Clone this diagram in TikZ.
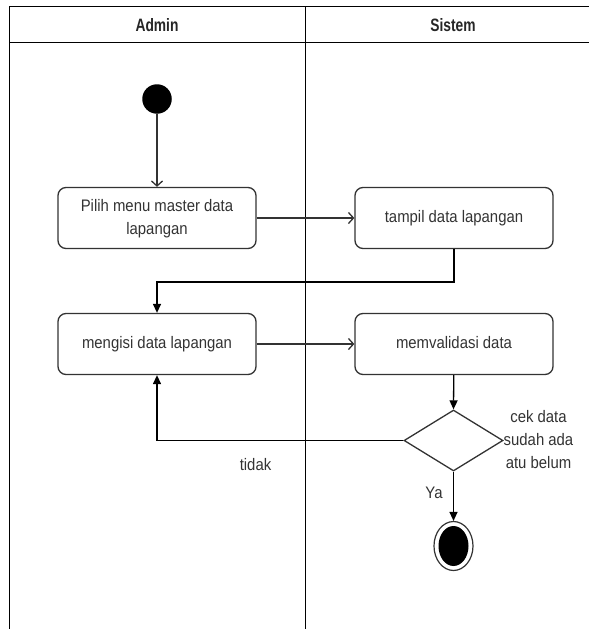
\documentclass[tikz,border=0pt]{standalone}
\usepackage{fontspec}
\setmainfont{Liberation Sans}
\usetikzlibrary{arrows.meta,shapes.geometric}
\definecolor{ink}{HTML}{333333}
% narrow, slightly tall lettering
\newcommand\tallstack[1]{\scalebox{1}[1.12]{\begin{tabular}{@{}c@{}}#1\end{tabular}}}
\begin{document}
\begin{tikzpicture}[x=1pt,y=-1pt,
  lane/.style={draw=black,line width=1pt},
  lanehead/.style={font=\bfseries\fontsize{13.8}{16}\selectfont,text=black!85},
  action/.style={draw=ink,line width=1.3pt,rounded corners=8pt,
    minimum width=198pt,minimum height=61pt,inner sep=0pt,
    font=\fontsize{14.9}{20.5}\selectfont,text=ink},
  decision/.style={draw=ink,line width=1.3pt,diamond,aspect=1.63,
    minimum width=99pt,minimum height=61pt,inner sep=0pt},
  startnode/.style={circle,fill=black,minimum size=29.5pt,inner sep=0pt},
  lbl/.style={font=\fontsize{14.9}{20.2}\selectfont,text=ink,inner sep=0pt},
  flowopen/.style={draw=ink,line width=1.3pt,-{Straight Barb[length=5pt,width=11pt]}},
  flowfill/.style={draw=black,line width=1.3pt,-{Triangle[length=9pt,width=8pt]}}]
\useasboundingbox (0,0) rectangle (589,629);

% swimlane frame
\draw[lane] (9,629) -- (9,6) -- (589,6);
\draw[lane] (9,42.7) -- (589,42.7);
\draw[lane] (305.5,6) -- (305.5,629);
\node[lanehead] (hadmin) at (157,25) {\scalebox{1}[1.3]{Admin}};
\node[lanehead] (hsistem) at (453,25) {\scalebox{1}[1.3]{Sistem}};

% nodes
\node[startnode] (start) at (157,99) {};
\node[action] (pilih) at (157,218) {\tallstack{Pilih menu master data\\lapangan}};
\node[action] (tampil) at (454,218) {\tallstack{tampil data lapangan}};
\node[action] (isi) at (157,344) {\tallstack{mengisi data lapangan}};
\node[action] (valid) at (454,344) {\tallstack{memvalidasi data}};
\node[decision] (cek) at (453.5,440.5) {};
\node[lbl] (cektext) at (538.5,441) {\tallstack{cek data\\sudah ada\\atu belum}};
\node[draw=ink,line width=1.2pt,ellipse,minimum width=39pt,minimum height=49pt,inner sep=0pt] (end) at (453.5,546) {};
\fill[black] (end.center) ellipse [x radius=15pt,y radius=20pt];
\coordinate (bend) at (157,282);

% connectors
\draw[flowopen] (start) -- (pilih);
\draw[flowopen] (pilih) -- (tampil);
\draw[flowfill] (tampil.south) |- (bend) -- (isi.north);
\draw[flowopen] (isi) -- (valid);
\draw[flowfill] (valid) -- (cek.north);
\draw[flowfill] (cek.west) -| (isi.south);
\draw[flowfill] (cek.south) -- (end.north);

% guard labels
\node[lbl] (tidak) at (255.5,465.5) {\tallstack{tidak}};
\node[lbl] (ya) at (434,494) {\tallstack{Ya}};
\end{tikzpicture}
\end{document}
